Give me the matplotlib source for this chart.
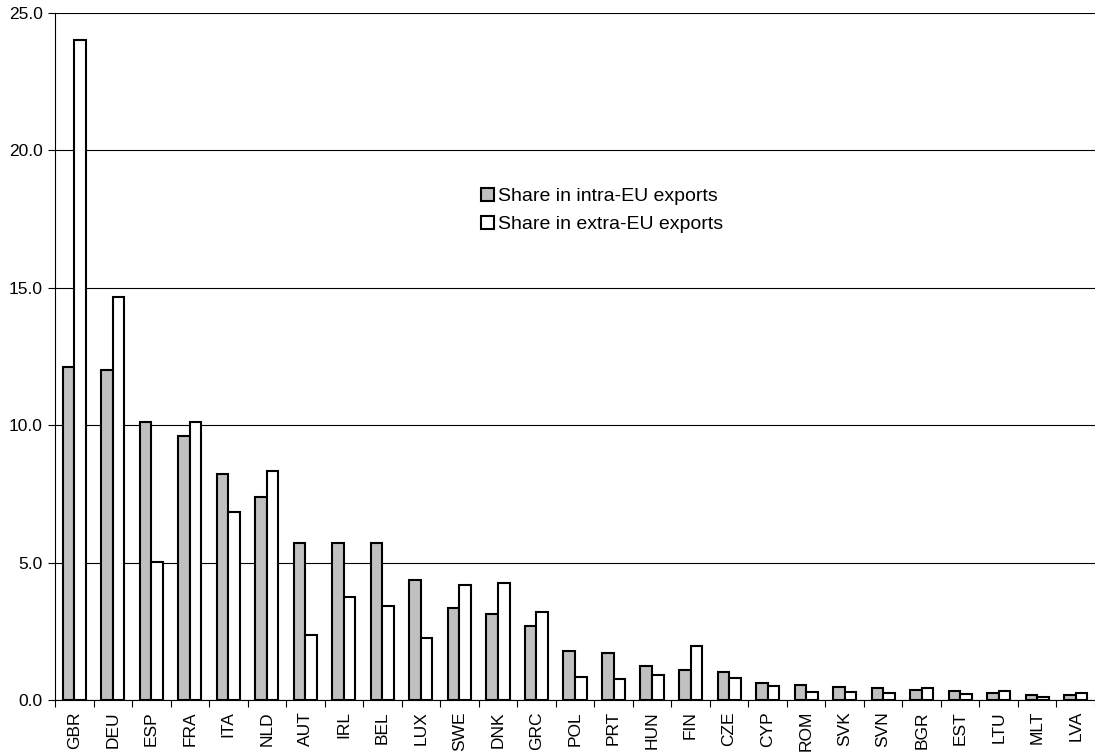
import numpy as np
import matplotlib
matplotlib.use('Agg')
import matplotlib.pyplot as plt
from matplotlib.ticker import FixedLocator

plt.rcParams['font.family'] = ['Liberation Sans', 'DejaVu Sans']

# Datos
paises = ['GBR', 'DEU', 'ESP', 'FRA', 'ITA', 'NLD', 'AUT', 'IRL', 'BEL', 'LUX',
          'SWE', 'DNK', 'GRC', 'POL', 'PRT', 'HUN', 'FIN', 'CZE', 'CYP', 'ROM',
          'SVK', 'SVN', 'BGR', 'EST', 'LTU', 'MLT', 'LVA']
intra_eu = [12.1, 12.0, 10.13, 9.61, 8.22, 7.40, 5.70, 5.70, 5.70, 4.36,
            3.36, 3.13, 2.69, 1.78, 1.71, 1.25, 1.08, 1.03, 0.62, 0.56,
            0.49, 0.45, 0.35, 0.34, 0.25, 0.19, 0.18]
extra_eu = [24.03, 14.68, 5.01, 10.1, 6.85, 8.33, 2.37, 3.75, 3.43, 2.24,
            4.18, 4.27, 3.21, 0.85, 0.75, 0.91, 1.95, 0.79, 0.52, 0.30,
            0.28, 0.24, 0.44, 0.22, 0.32, 0.11, 0.24]
y_ticks = [0, 5, 10, 15, 20, 25]

fig = plt.figure(figsize=(10.95, 7.52), dpi=100)
ax = fig.add_axes([55 / 1095, 52 / 752, 1040 / 1095, 687 / 752])

x = np.arange(len(paises))
w = 0.3
ax.bar(x - w / 2, intra_eu, width=w, color='#c0c0c0', edgecolor='black',
       linewidth=1.5, label='Share in intra-EU exports', zorder=3)
ax.bar(x + w / 2, extra_eu, width=w, color='white', edgecolor='black',
       linewidth=1.5, label='Share in extra-EU exports', zorder=3)

ax.set_xlim(-0.5, len(paises) - 0.5)
ax.set_ylim(0, 25)
ax.set_yticks(y_ticks)
ax.set_yticklabels([f'{v:.1f}' for v in y_ticks], fontsize=12.5)
ax.yaxis.grid(True, color='black', linewidth=0.8, zorder=0)

ax.set_xticks(x)
ax.set_xticklabels(paises, rotation=90, fontsize=12.5)
ax.tick_params(axis='x', which='major', length=0, pad=8)
ax.xaxis.set_minor_locator(FixedLocator(np.arange(-0.5, len(paises), 1)))
ax.tick_params(axis='x', which='minor', length=5, width=0.8, direction='out')
ax.tick_params(axis='y', length=5, width=0.8, direction='out', pad=4)

for lado in ['top', 'right']:
    ax.spines[lado].set_visible(False)
ax.spines['left'].set_linewidth(0.8)
ax.spines['bottom'].set_linewidth(0.8)

ax.legend(loc='upper left', bbox_to_anchor=(426 / 1040, (700 - 188) / 687),
          frameon=False, fontsize=14, handlelength=0.65, handleheight=0.65,
          handletextpad=0.2, borderpad=0, borderaxespad=0, labelspacing=0.55)

fig.savefig('out.png', dpi=100)
